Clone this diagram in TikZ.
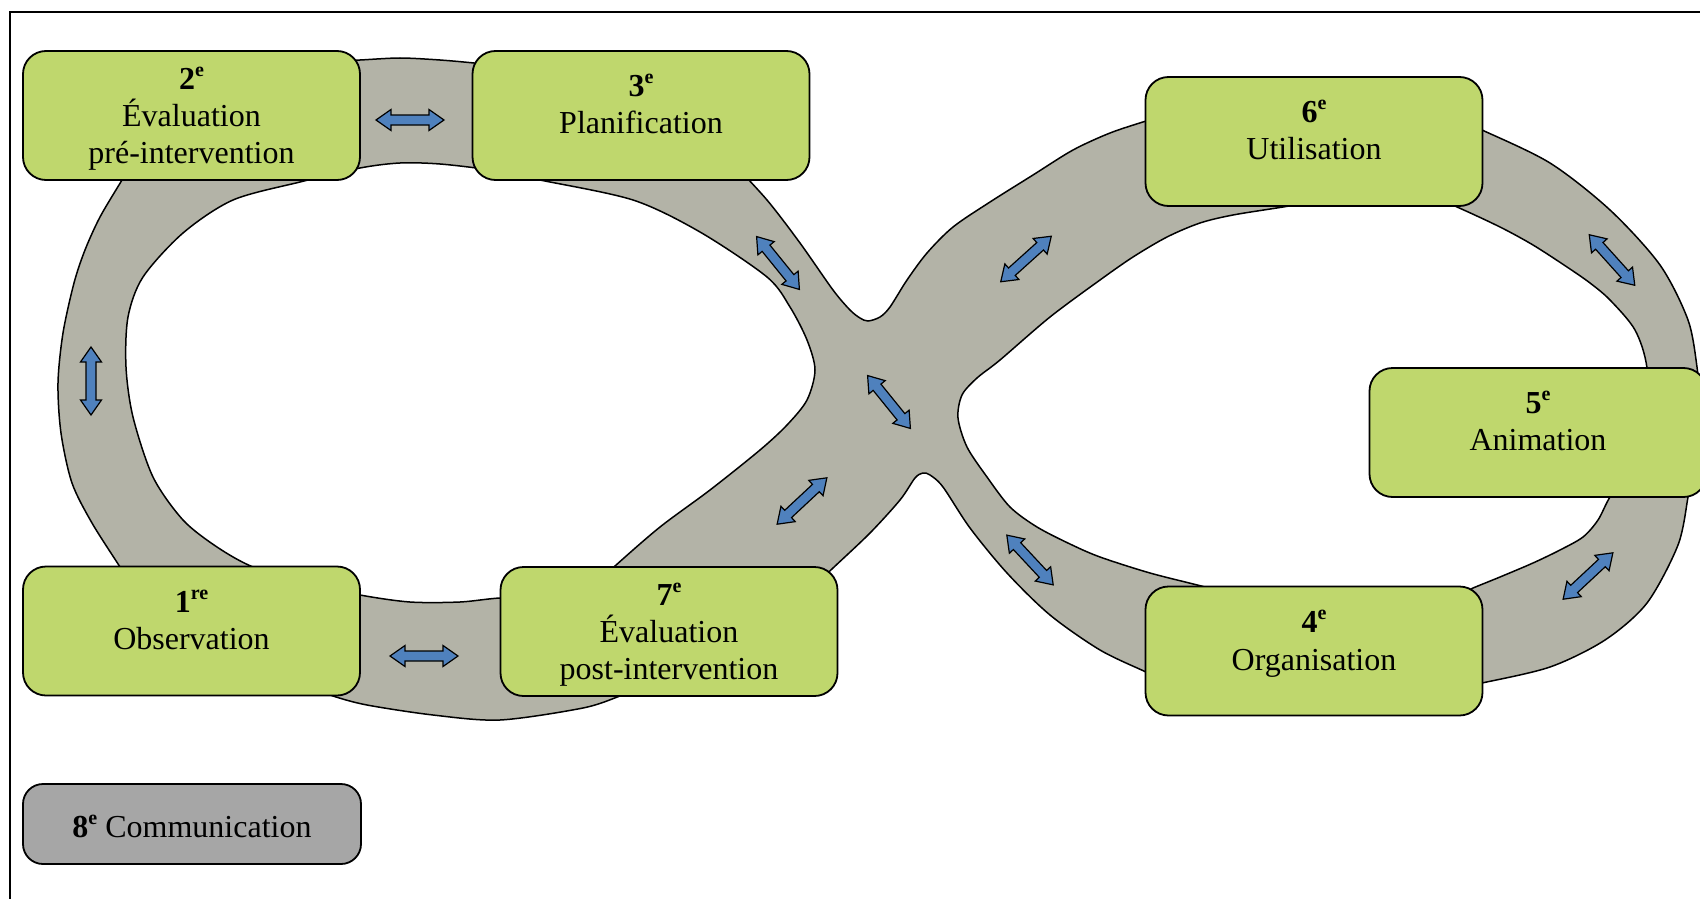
\documentclass[tikz,border=0pt]{standalone}
\usepackage{fontspec}
\setmainfont{Liberation Serif}
\definecolor{boxgreen}{RGB}{191,215,109}
\definecolor{roadgray}{RGB}{179,179,167}
\definecolor{commgray}{RGB}{166,166,166}
\definecolor{arrowblue}{RGB}{79,129,189}
\newcommand\ordn[2]{\textbf{#1}\raisebox{13pt}{\fontsize{20}{20}\selectfont\bfseries #2}}
\tikzset{
  stagebox/.style={draw=black, line width=1.8pt, fill=boxgreen, rounded corners=23pt,
    minimum width=337pt, minimum height=129pt, inner sep=0pt},
  commbox/.style={stagebox, fill=commgray, rounded corners=20pt, minimum height=80pt, minimum width=338pt},
  lbl/.style={anchor=base, inner sep=0pt, font=\fontsize{32}{38}\selectfont},
  road/.style={fill=roadgray, draw=black, line width=1.5pt, even odd rule},
  darrow/.pic={\draw[fill=arrowblue, line width=1.2pt, line join=miter]
    (-34,0) -- (-19,10.5) -- (-19,5) -- (19,5) -- (19,10.5) -- (34,0)
    -- (19,-10.5) -- (19,-5) -- (-19,-5) -- (-19,-10.5) -- cycle;}
}
\begin{document}
\begin{tikzpicture}[x=1pt,y=-1pt]
\useasboundingbox (0,0) rectangle (1700,899);
\clip (0,0) rectangle (1700,899);
\fill[white] (0,0) rectangle (1700,899);
\draw[line width=1.8pt] (10,12) rectangle (1730,930);

% road (figure eight)
\path[road]
  plot[smooth] coordinates {(335,61) (360,60) (400,58) (440,60) (474,63) (500,66)}
  -- (641,115) --
  plot[smooth] coordinates {(730,160) (767,200) (800,243) (833,290) (850,310) (860,318) (868,321) (880,317) (890,307) (907,280) (927,253) (953,227) (990,202) (1033,175) (1073,150) (1110,133) (1146,121) (1175,112)}
  -- (1314,140) --
  plot[smooth] coordinates {(1460,121) (1482,130) (1550,163) (1610,210) (1660,265) (1688,320) (1697,367) (1699,395)}
  -- (1650,432) --
  plot[smooth] coordinates {(1692,470) (1688,497) (1678,545) (1647,603) (1605,640) (1550,667) (1482,683) (1455,688)}
  -- (1314,651) --
  plot[smooth] coordinates {(1170,683) (1146,672) (1100,650) (1050,615) (1007,573) (970,528) (943,487) (930,475) (923,473) (915,478) (900,500) (870,533) (833,568) (815,585)}
  -- (669,631) --
  plot[smooth] coordinates {(640,688) (620,696) (583,708) (500,720) (433,715) (367,705) (333,696) (315,688)}
  -- (191,631) --
  plot[smooth] coordinates {(138,596) (120,567) (92,523) (72,483) (61,433) (58,383) (63,333) (74,283) (85,250) (100,217) (122,180) (140,150)}
  -- (191,115) -- cycle
  % left hole
  plot[smooth cycle] coordinates {(253,567) (217,547) (183,520) (153,477) (133,417) (126,367) (128,317) (143,277) (183,233) (233,200) (300,182) (360,168) (400,163) (440,164) (490,170) (540,180) (633,200) (700,232) (767,277) (790,307) (807,340) (815,370) (807,400) (787,425) (760,450) (710,490) (660,527) (615,566) (590,590) (540,600) (501,598) (460,602) (410,602) (360,595) (305,583)}
  % right hole
  plot[smooth cycle] coordinates {(958,418) (962,395) (977,378) (1000,360) (1050,317) (1100,280) (1133,257) (1167,237) (1200,223) (1233,215) (1283,207) (1350,196) (1420,192) (1457,207) (1500,227) (1533,245) (1567,267) (1590,283) (1610,300) (1635,330) (1647,368) (1648,430) (1625,480) (1610,497) (1598,520) (1583,537) (1560,550) (1533,563) (1500,577) (1473,588) (1445,600) (1340,605) (1230,595) (1205,587) (1150,573) (1100,557) (1070,544) (1037,527) (1010,507) (987,477) (967,447)};

% blue double arrows
\pic[rotate=0]   (a23) at (410,120) {darrow};
\pic[rotate=90]  (a12) at (91,381) {darrow};
\pic[rotate=0]   (a17) at (424,656) {darrow};
\pic[rotate=-51] (a3x) at (778,263) {darrow};
\pic[rotate=-51] (axx) at (889,402) {darrow};
\pic[rotate=43]  (a7x) at (802,501) {darrow};
\pic[rotate=42]  (a6x) at (1026,259) {darrow};
\pic[rotate=-48] (a65) at (1612,260) {darrow};
\pic[rotate=43]  (a54) at (1588,576) {darrow};
\pic[rotate=-47] (a4x) at (1030,560) {darrow};

% stage boxes
\node[stagebox] (b2) at (191.5,115.5) {};
\node[stagebox] (b3) at (641,115.5) {};
\node[stagebox] (b6) at (1314,141.5) {};
\node[stagebox] (b5) at (1538,432.5) {};
\node[stagebox] (b4) at (1314,651) {};
\node[stagebox] (b1) at (191.5,631) {};
\node[stagebox] (b7) at (669,631.5) {};
\node[commbox]  (b8) at (192,824) {};

% labels
\node[lbl] (b2n) at (191.5,89) {\ordn{2}{e}};
\node[lbl] (b2a) at (191.5,126) {Évaluation};
\node[lbl] (b2b) at (191.5,163) {pré-intervention};
\node[lbl] (b3n) at (641,96.5) {\ordn{3}{e}};
\node[lbl] (b3a) at (641,133.5) {Planification};
\node[lbl] (b6n) at (1314,122.5) {\ordn{6}{e}};
\node[lbl] (b6a) at (1314,159.5) {Utilisation};
\node[lbl] (b5n) at (1538,413) {\ordn{5}{e}};
\node[lbl] (b5a) at (1538,450) {Animation};
\node[lbl] (b4n) at (1314,632) {\ordn{4}{e}};
\node[lbl] (b4a) at (1314,670) {Organisation};
\node[lbl] (b1n) at (191.5,612) {\ordn{1}{re}};
\node[lbl] (b1a) at (191.5,649) {Observation};
\node[lbl] (b7n) at (669,605) {\ordn{7}{e}};
\node[lbl] (b7a) at (669,642) {Évaluation};
\node[lbl] (b7b) at (669,679) {post-intervention};
\node[lbl] (b8a) at (192,837) {\ordn{8}{e} Communication};
\end{tikzpicture}
\end{document}
